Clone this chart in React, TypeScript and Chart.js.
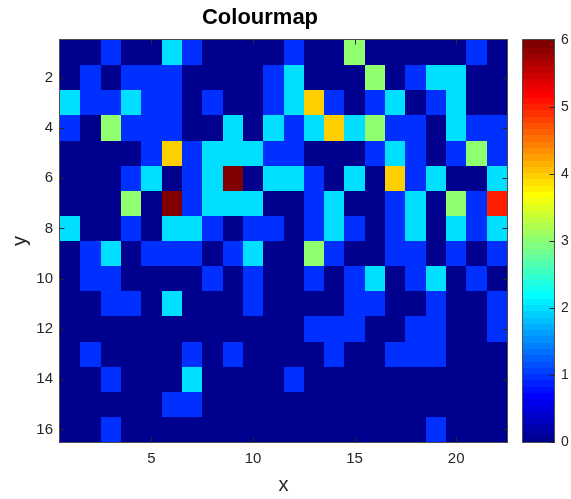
import React, { useEffect, useRef } from "react";
import { Chart, registerables } from "chart.js";

Chart.register(...registerables);

// ---- data ----
const X_CATEGORIES = [1, 2, 3, 4, 5, 6, 7, 8, 9, 10, 11, 12, 13, 14, 15, 16, 17, 18, 19, 20, 21, 22];
const Y_CATEGORIES = [1, 2, 3, 4, 5, 6, 7, 8, 9, 10, 11, 12, 13, 14, 15, 16];
const X_TICKS = [5, 10, 15, 20];
const Y_TICKS = [2, 4, 6, 8, 10, 12, 14, 16];
const CBAR_TICKS = [0, 1, 2, 3, 4, 5, 6];
const C_MIN = 0;
const C_MAX = 6;
const N_COLORS = 64;

// one row per y value (1..16), one entry per x value (1..22)
const Z: number[][] = [
  [0, 0, 1, 0, 0, 2, 1, 0, 0, 0, 0, 1, 0, 0, 3, 0, 0, 0, 0, 0, 1, 0],
  [0, 1, 0, 1, 1, 1, 0, 0, 0, 0, 1, 2, 0, 0, 0, 3, 0, 1, 2, 2, 0, 0],
  [2, 1, 1, 2, 1, 1, 0, 1, 0, 0, 1, 2, 4, 1, 0, 1, 2, 0, 1, 2, 0, 0],
  [1, 0, 3, 1, 1, 1, 0, 0, 2, 0, 2, 1, 2, 4, 2, 3, 1, 1, 0, 2, 1, 1],
  [0, 0, 0, 0, 1, 4, 1, 2, 2, 2, 1, 1, 0, 0, 0, 1, 2, 1, 0, 1, 3, 1],
  [0, 0, 0, 1, 2, 0, 1, 2, 6, 0, 2, 2, 1, 0, 2, 0, 4, 1, 2, 0, 0, 2],
  [0, 0, 0, 3, 0, 6, 1, 2, 2, 2, 0, 0, 1, 2, 0, 0, 1, 2, 0, 3, 1, 5],
  [2, 0, 0, 1, 0, 2, 2, 1, 0, 1, 1, 0, 1, 2, 1, 0, 1, 2, 0, 2, 1, 2],
  [0, 1, 2, 0, 1, 1, 1, 0, 1, 2, 0, 0, 3, 1, 0, 0, 1, 1, 0, 1, 0, 1],
  [0, 1, 1, 0, 0, 0, 0, 1, 0, 1, 0, 0, 1, 0, 1, 2, 0, 1, 2, 0, 1, 0],
  [0, 0, 1, 1, 0, 2, 0, 0, 0, 1, 0, 0, 0, 0, 1, 1, 0, 0, 1, 0, 0, 1],
  [0, 0, 0, 0, 0, 0, 0, 0, 0, 0, 0, 0, 1, 1, 1, 0, 0, 1, 1, 0, 0, 1],
  [0, 1, 0, 0, 0, 0, 1, 0, 1, 0, 0, 0, 0, 1, 0, 0, 1, 1, 1, 0, 0, 0],
  [0, 0, 1, 0, 0, 0, 2, 0, 0, 0, 0, 1, 0, 0, 0, 0, 0, 0, 0, 0, 0, 0],
  [0, 0, 0, 0, 0, 1, 1, 0, 0, 0, 0, 0, 0, 0, 0, 0, 0, 0, 0, 0, 0, 0],
  [0, 0, 1, 0, 0, 0, 0, 0, 0, 0, 0, 0, 0, 0, 0, 0, 0, 0, 1, 0, 0, 0],
];

const FONT = "'Liberation Sans', Arial, Helvetica, sans-serif";
const TEXT_COLOR = "#262626";
const BOX_COLOR = "#4d4d4d";

// MATLAB-style jet colormap
function jetColor(k: number, m = N_COLORS): string {
  const n = Math.ceil(m / 4);
  const u: number[] = [];
  for (let i = 1; i <= n; i++) u.push(i / n);
  for (let i = 0; i < n - 1; i++) u.push(1);
  for (let i = n; i >= 1; i--) u.push(i / n);
  const g0 = Math.ceil(n / 2) - (m % 4 === 1 ? 1 : 0);
  const row = k + 1;
  const pick = (i: number) => (i >= 0 && i < u.length ? u[i] : 0);
  const g = pick(row - (g0 + 1));
  const r = pick(row - (g0 + 1 + n));
  const b = pick(row - (g0 + 1 - n));
  return `rgb(${Math.round(r * 255)},${Math.round(g * 255)},${Math.round(b * 255)})`;
}

function colorFor(v: number): string {
  const idx = Math.min(N_COLORS - 1, Math.max(0, Math.floor(((v - C_MIN) / (C_MAX - C_MIN)) * N_COLORS)));
  return jetColor(idx);
}

function drawBox(chart: any, sides: { left: boolean; right: boolean; top: boolean; bottom: boolean }) {
  const { ctx, chartArea } = chart;
  const l = Math.round(chartArea.left) - 0.5;
  const r = Math.round(chartArea.right) + 0.5;
  const t = Math.round(chartArea.top) - 0.5;
  const b = Math.round(chartArea.bottom) + 0.5;
  ctx.save();
  ctx.strokeStyle = BOX_COLOR;
  ctx.lineWidth = 1;
  ctx.strokeRect(l, t, r - l, b - t);
  ctx.strokeStyle = TEXT_COLOR;
  const len = 5;
  const xs = chart.scales.x;
  const ys = chart.scales.y;
  ctx.beginPath();
  if (xs && xs.options.display !== false) {
    xs.ticks.forEach((tk: any) => {
      const px = Math.round(xs.getPixelForValue(tk.value)) + 0.5;
      if (sides.bottom) {
        ctx.moveTo(px, b);
        ctx.lineTo(px, b - len);
      }
      if (sides.top) {
        ctx.moveTo(px, t);
        ctx.lineTo(px, t + len);
      }
    });
  }
  if (ys) {
    ys.ticks.forEach((tk: any) => {
      const py = Math.round(ys.getPixelForValue(tk.value)) + 0.5;
      if (sides.left) {
        ctx.moveTo(l, py);
        ctx.lineTo(l + len, py);
      }
      if (sides.right) {
        ctx.moveTo(r, py);
        ctx.lineTo(r - len, py);
      }
    });
  }
  ctx.stroke();
  ctx.restore();
}

const heatmapPlugin = {
  id: "heatmapCells",
  beforeDatasetsDraw(chart: any) {
    const { ctx, chartArea } = chart;
    const xs = chart.scales.x;
    const ys = chart.scales.y;
    ctx.save();
    ctx.beginPath();
    ctx.rect(chartArea.left, chartArea.top, chartArea.width, chartArea.height);
    ctx.clip();
    chart.data.datasets[0].data.forEach((p: any) => {
      const x0 = Math.round(xs.getPixelForValue(p.x - 0.5));
      const x1 = Math.round(xs.getPixelForValue(p.x + 0.5));
      const y0 = Math.round(ys.getPixelForValue(p.y - 0.5));
      const y1 = Math.round(ys.getPixelForValue(p.y + 0.5));
      ctx.fillStyle = colorFor(p.v);
      ctx.fillRect(Math.min(x0, x1), Math.min(y0, y1), Math.abs(x1 - x0), Math.abs(y1 - y0));
    });
    ctx.restore();
  },
  afterDatasetsDraw(chart: any) {
    drawBox(chart, { left: true, right: true, top: true, bottom: true });
  },
};

const colorbarPlugin = {
  id: "colorbarBands",
  beforeDatasetsDraw(chart: any) {
    const { ctx, chartArea } = chart;
    const ys = chart.scales.y;
    ctx.save();
    for (let k = 0; k < N_COLORS; k++) {
      const v0 = C_MIN + ((C_MAX - C_MIN) * k) / N_COLORS;
      const v1 = C_MIN + ((C_MAX - C_MIN) * (k + 1)) / N_COLORS;
      const p0 = ys.getPixelForValue(v0);
      const p1 = ys.getPixelForValue(v1);
      ctx.fillStyle = jetColor(k);
      ctx.fillRect(chartArea.left, Math.floor(Math.min(p0, p1)), chartArea.width, Math.ceil(Math.abs(p1 - p0)) + 1);
    }
    ctx.restore();
  },
  afterDatasetsDraw(chart: any) {
    drawBox(chart, { left: false, right: true, top: false, bottom: false });
  },
};

export default function App() {
  const mainRef = useRef<HTMLCanvasElement | null>(null);
  const barRef = useRef<HTMLCanvasElement | null>(null);

  useEffect(() => {
    if (!mainRef.current || !barRef.current) return;

    const cells: { x: number; y: number; v: number }[] = [];
    Y_CATEGORIES.forEach((yv, ri) => {
      X_CATEGORIES.forEach((xv, ci) => {
        cells.push({ x: xv, y: yv, v: Z[ri][ci] });
      });
    });

    const main = new Chart(mainRef.current, {
      type: "scatter",
      data: {
        datasets: [
          {
            data: cells as any,
            pointRadius: 0,
            pointHoverRadius: 0,
            showLine: false,
          },
        ],
      },
      options: {
        responsive: false,
        animation: false,
        devicePixelRatio: 1,
        events: [],
        layout: { padding: { left: 13, right: 13, top: 0, bottom: 0 } },
        plugins: {
          legend: { display: false },
          tooltip: { enabled: false },
          title: {
            display: true,
            text: "Colourmap",
            color: "#000000",
            font: { family: FONT, size: 22, weight: "bold", lineHeight: 1.2 },
            padding: { top: 5, bottom: 8.6 },
          },
        },
        scales: {
          x: {
            type: "linear",
            min: 0.5,
            max: 22.5,
            afterBuildTicks: (s: any) => {
              s.ticks = X_TICKS.map((v) => ({ value: v }));
            },
            afterFit: (s: any) => {
              s.height = 57;
            },
            grid: { display: false, drawTicks: false },
            border: { display: false },
            ticks: {
              padding: 8,
              color: TEXT_COLOR,
              font: { family: FONT, size: 15, lineHeight: 1.2 },
              autoSkip: false,
              maxRotation: 0,
            },
            title: {
              display: true,
              text: "x",
              color: TEXT_COLOR,
              font: { family: FONT, size: 20, lineHeight: 1.2 },
              padding: { top: 0, bottom: 2 },
            },
          },
          y: {
            type: "linear",
            reverse: true,
            min: 0.5,
            max: 16.5,
            afterBuildTicks: (s: any) => {
              s.ticks = Y_TICKS.map((v) => ({ value: v }));
            },
            afterFit: (s: any) => {
              s.width = 47;
            },
            grid: { display: false, drawTicks: false },
            border: { display: false },
            ticks: {
              padding: 7,
              color: TEXT_COLOR,
              font: { family: FONT, size: 15, lineHeight: 1.2 },
              autoSkip: false,
            },
            title: {
              display: true,
              text: "y",
              color: TEXT_COLOR,
              font: { family: FONT, size: 20, lineHeight: 0.7 },
              padding: { top: 0, bottom: 0 },
            },
          },
        },
      },
      plugins: [heatmapPlugin],
    });

    const bar = new Chart(barRef.current, {
      type: "scatter",
      data: { datasets: [{ data: [], pointRadius: 0 }] },
      options: {
        responsive: false,
        animation: false,
        devicePixelRatio: 1,
        events: [],
        layout: { padding: { left: 5, right: 0, top: 40, bottom: 57 } },
        plugins: {
          legend: { display: false },
          tooltip: { enabled: false },
          title: { display: false },
        },
        scales: {
          x: { type: "linear", display: false, min: 0, max: 1 },
          y: {
            type: "linear",
            position: "right",
            min: C_MIN,
            max: C_MAX,
            afterBuildTicks: (s: any) => {
              s.ticks = CBAR_TICKS.map((v) => ({ value: v }));
            },
            afterFit: (s: any) => {
              s.width = 17;
            },
            grid: { display: false, drawTicks: false },
            border: { display: false },
            ticks: {
              padding: 7,
              color: TEXT_COLOR,
              font: { family: FONT, size: 14, lineHeight: 1.2 },
              autoSkip: false,
            },
          },
        },
      },
      plugins: [colorbarPlugin],
    });

    return () => {
      main.destroy();
      bar.destroy();
    };
  }, []);

  return (
    <div
      style={{
        position: "fixed",
        left: 0,
        top: 0,
        width: 571,
        height: 499,
        background: "#ffffff",
        overflow: "hidden",
      }}
    >
      <canvas
        ref={mainRef}
        width={520}
        height={499}
        style={{ position: "absolute", left: 0, top: 0, width: 520, height: 499 }}
      />
      <canvas
        ref={barRef}
        width={53}
        height={499}
        style={{ position: "absolute", left: 518, top: 0, width: 53, height: 499 }}
      />
    </div>
  );
}
